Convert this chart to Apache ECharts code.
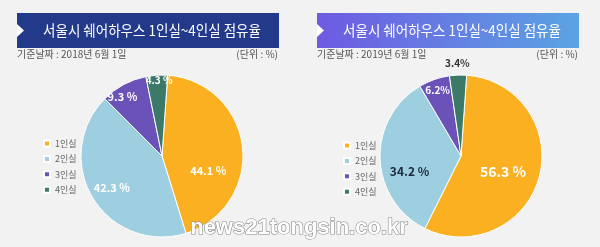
<!DOCTYPE html>
<html><head><meta charset="utf-8">
<script src="https://cdn.jsdelivr.net/npm/echarts@6/dist/echarts.min.js"></script>
<style>html,body{margin:0;padding:0;background:#f2f2f2}#c{width:600px;height:247px}</style>
</head><body><div id="c"></div>
<script>
const categories = ['1인실', '2인실', '3인실', '4인실'];
const values2018 = [44.1, 42.3, 9.3, 4.3];
const values2019 = [56.3, 34.2, 6.2, 3.4];
const labels2018 = ['44.1 %', '42.3 %', '9.3 %', '4.3 %'];
const labels2019 = ['56.3 %', '34.2 %', '6.2%', '3.4%'];
const chartTitle = '서울시 쉐어하우스 1인실~4인실 점유율';
const date2018 = '기준날짜 : 2018년 6월 1일';
const date2019 = '기준날짜 : 2019년 6월 1일';
const unitText = '(단위 : %)';
const watermark = 'news21tongsin.co.kr';

const colors = ['#fbb021', '#9dcfe0', '#6a52b9', '#3b7a68'];
const FONT = '"Noto Sans CJK KR", "Noto Sans", sans-serif';

const labelStyle2018 = [
  {color:'#fff', fontSize:11, offset:[3,20]},
  {color:'#fff', fontSize:11, offset:[-13,9]},
  {color:'#fff', fontSize:11, offset:[-19,-21]},
  {color:'#fff', fontSize:10, offset:[0,-32]}
];
const labelStyle2019 = [
  {color:'#fff', fontSize:14, offset:[0,4]},
  {color:'#1d2845', fontSize:12, offset:[-8,14]},
  {color:'#fff', fontSize:10, offset:[-9,-25]},
  {color:'#333', fontSize:10, offset:[-2,-49]}
];

function makeData(vals, labs, styles) {
  return vals.map((v, i) => ({
    name: categories[i], value: v,
    itemStyle: {color: colors[i]},
    label: {formatter: labs[i], color: styles[i].color, fontSize: styles[i].fontSize, offset: styles[i].offset}
  }));
}

function pieSeries(vals, labs, styles, cx) {
  return {
    type: 'pie', center: [cx, 156], radius: 81, startAngle: 86, clockwise: true,
    avoidLabelOverlap: false, silent: true, animation: false,
    itemStyle: {borderColor: '#fff', borderWidth: 1},
    label: {show: true, position: 'inside', fontFamily: FONT, fontWeight: 'bold'},
    labelLine: {show: false},
    data: makeData(vals, labs, styles)
  };
}

function banner(x, fill) {
  return [
    {type:'rect', shape:{x:x, y:13, width:262, height:35}, style:{fill:fill}},
    {type:'polygon', shape:{points:[[x,24],[x+7,30.5],[x,37]]}, style:{fill:'#ffffff'}},
    {type:'text', x:x+135, y:30.5, scaleX:0.9,
     style:{text:chartTitle, fill:'#fff', font:'15px ' + FONT, textAlign:'center', textVerticalAlign:'middle'}}
  ];
}

function sub(x, t, align) {
  return {type:'text', x:x, y:54, style:{text:t, fill:'#555', font:'10px ' + FONT, textAlign:align, textVerticalAlign:'middle'}};
}

const chart = echarts.init(document.getElementById('c'));
chart.setOption({
  backgroundColor: '#f2f2f2',
  animation: false,
  legend: [
    {orient:'vertical', left:38, top:134, itemWidth:6, itemHeight:6, itemGap:6.4, icon:'rect',
     textStyle:{fontSize:9, color:'#666', fontFamily:FONT}, data: categories, selectedMode:false},
    {orient:'vertical', left:338, top:136, itemWidth:6, itemHeight:6, itemGap:6.4, icon:'rect',
     textStyle:{fontSize:9, color:'#666', fontFamily:FONT}, data: categories, selectedMode:false}
  ],
  series: [
    pieSeries(values2018, labels2018, labelStyle2018, 162),
    pieSeries(values2019, labels2019, labelStyle2019, 461)
  ],
  graphic: [].concat(
    banner(17, '#233a8b'),
    banner(317, {type:'linear', x:0, y:0, x2:1, y2:0, colorStops:[{offset:0, color:'#6e5ae2'},{offset:1, color:'#5ba3e3'}]}),
    [sub(17, date2018, 'left'), sub(278, unitText, 'right'), sub(317, date2019, 'left'), sub(578, unitText, 'right'),
     {type:'text', x:299, y:239, z:100,
      style:{text:watermark, fill:'#fff', stroke:'#8a8a8a', lineWidth:1.2, font:'bold 22px "Liberation Sans", Arial, sans-serif',
             textAlign:'center', textVerticalAlign:'bottom', shadowColor:'rgba(0,0,0,0.3)', shadowBlur:2, shadowOffsetX:1, shadowOffsetY:1}}]
  )
});
</script></body></html>
